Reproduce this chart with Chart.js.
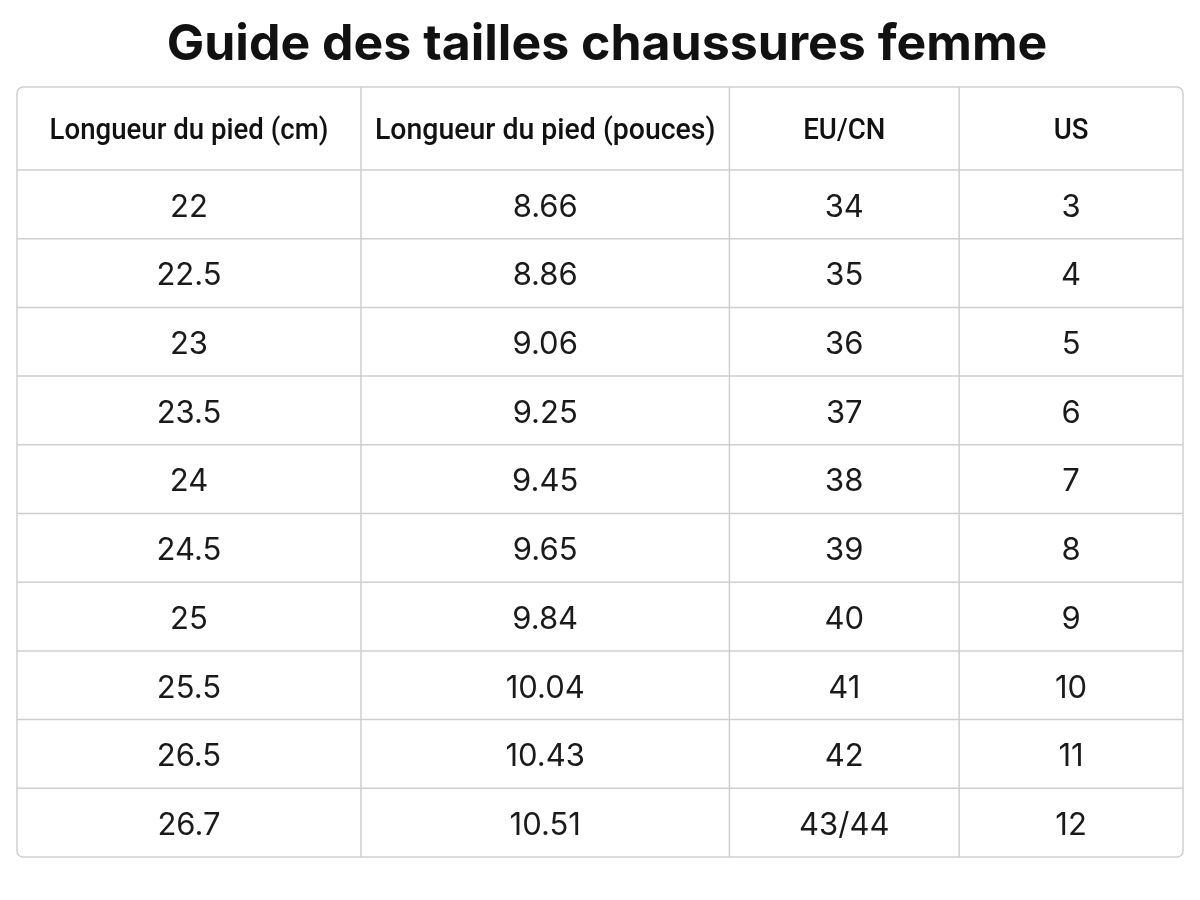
<!DOCTYPE html>
<html>
<head>
<meta charset="utf-8">
<script src="https://cdn.jsdelivr.net/npm/chart.js@4"></script>
<style>
  html, body { margin: 0; padding: 0; background: #fff; }
  #wrap { width: 1200px; height: 900px; }
</style>
</head>
<body>
<div id="wrap"><canvas id="c" width="1200" height="900"></canvas></div>
<script>
const TITLE = 'Guide des tailles chaussures femme';
const headers = ['Longueur du pied (cm)', 'Longueur du pied (pouces)', 'EU/CN', 'US'];
const footCm = ['22', '22.5', '23', '23.5', '24', '24.5', '25', '25.5', '26.5', '26.7'];
const footIn = ['8.66', '8.86', '9.06', '9.25', '9.45', '9.65', '9.84', '10.04', '10.43', '10.51'];
const euCn = ['34', '35', '36', '37', '38', '39', '40', '41', '42', '43/44'];
const us = ['3', '4', '5', '6', '7', '8', '9', '10', '11', '12'];

const columns = [footCm, footIn, euCn, us];
const colFrac = [0, 0.295, 0.611, 0.808, 1];
const headerFrac = 83 / 770;

const tablePlugin = {
  id: 'tablePlugin',
  afterDraw(chart) {
    const ctx = chart.ctx;
    const a = chart.chartArea;
    const w = a.right - a.left, h = a.bottom - a.top;
    const xs = colFrac.map(f => a.left + f * w);
    const headerBottom = a.top + headerFrac * h;
    const rowH = (a.bottom - headerBottom) / footCm.length;

    ctx.save();
    ctx.fillStyle = '#111';
    ctx.font = 'bold 50px Inter, "Open Sans", sans-serif';
    ctx.textAlign = 'center';
    ctx.textBaseline = 'middle';
    ctx.fillText(TITLE, 607, 45);

    ctx.strokeStyle = '#cfcfcf';
    ctx.lineWidth = 1.5;
    ctx.beginPath();
    ctx.roundRect(a.left, a.top, w, h, 6);
    ctx.stroke();
    ctx.beginPath();
    for (let i = 1; i < xs.length - 1; i++) {
      ctx.moveTo(xs[i], a.top); ctx.lineTo(xs[i], a.bottom);
    }
    ctx.moveTo(a.left, headerBottom); ctx.lineTo(a.right, headerBottom);
    for (let r = 1; r < footCm.length; r++) {
      const y = headerBottom + r * rowH;
      ctx.moveTo(a.left, y); ctx.lineTo(a.right, y);
    }
    ctx.stroke();

    ctx.fillStyle = '#111';
    ctx.font = '500 30px Roboto, Inter, sans-serif';
    headers.forEach((t, i) => {
      const cx = (xs[i] + xs[i + 1]) / 2;
      ctx.save();
      ctx.translate(cx, (a.top + headerBottom) / 2 + 3);
      const tw = ctx.measureText(t).width;
      const maxW = (xs[i + 1] - xs[i]) - 28;
      ctx.scale(tw > maxW ? maxW / tw : 0.92, 1);
      ctx.fillText(t, 0, 0);
      ctx.restore();
    });

    ctx.font = '31px Inter, Roboto, sans-serif';
    ctx.fillStyle = '#1a1a1a';
    columns.forEach((col, i) => {
      const cx = (xs[i] + xs[i + 1]) / 2;
      col.forEach((v, r) => {
        ctx.fillText(v, cx, headerBottom + (r + 0.5) * rowH + 3);
      });
    });
    ctx.restore();
  }
};

new Chart(document.getElementById('c'), {
  type: 'bar',
  data: { labels: footCm, datasets: [{ data: [] }] },
  options: {
    responsive: false,
    animation: false,
    layout: { padding: { left: 17, right: 17, top: 87, bottom: 43 } },
    plugins: { legend: { display: false }, tooltip: { enabled: false } },
    scales: { x: { display: false }, y: { display: false } }
  },
  plugins: [tablePlugin]
});
</script>
</body>
</html>
